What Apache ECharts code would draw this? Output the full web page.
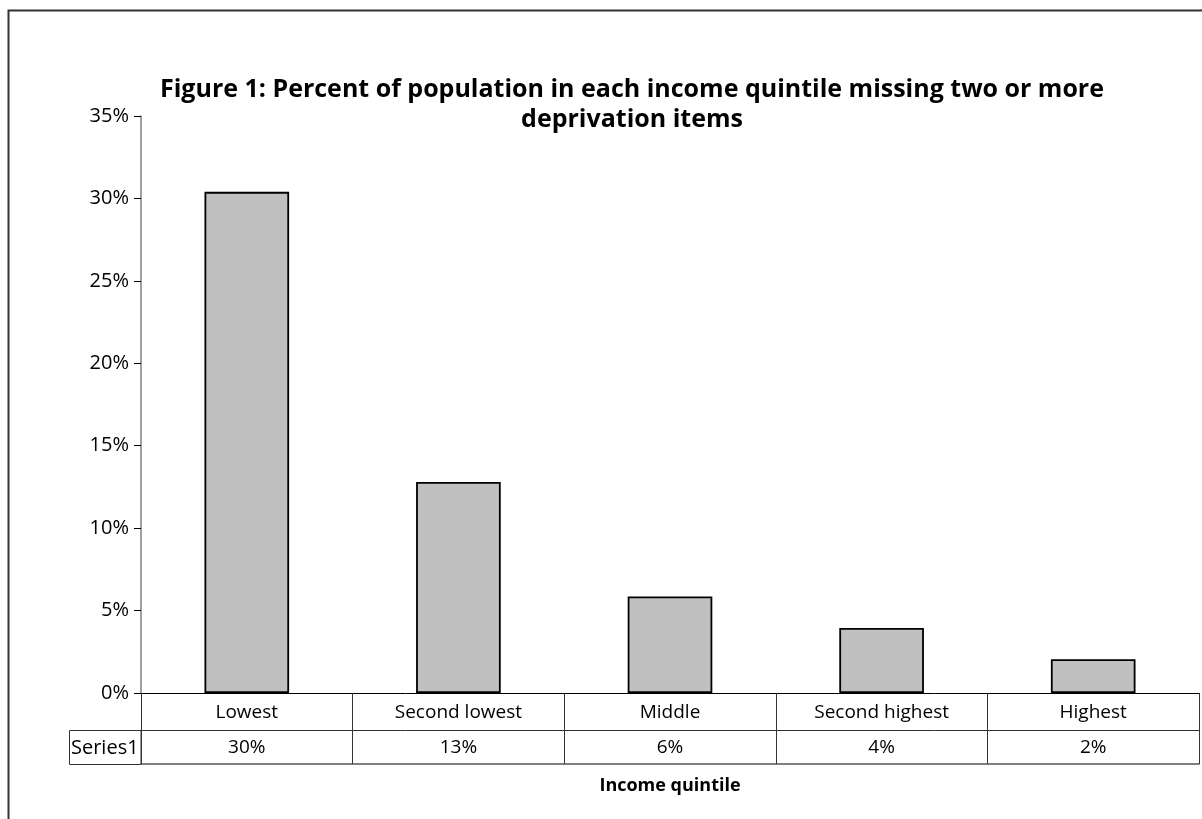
<!DOCTYPE html>
<html><head><meta charset="utf-8">
<script src="https://cdn.jsdelivr.net/npm/echarts@6/dist/echarts.min.js"></script>
<style>html,body{margin:0;padding:0;background:#fff}#c{width:1202px;height:819px}</style>
</head><body><div id="c"></div>
<script>
const titleText = 'Figure 1: Percent of population in each income quintile missing two or more\ndeprivation items';
const categories = ['Lowest', 'Second lowest', 'Middle', 'Second highest', 'Highest'];
const values = [30.4, 12.8, 5.85, 3.95, 2.05];
const tableLabels = ['30%', '13%', '6%', '4%', '2%'];
const seriesName = 'Series1';
const axisTitle = 'Income quintile';
const yMin = 0, yMax = 35, yStep = 5;

const FONT = '"Open Sans", "Noto Sans", sans-serif';
const W = 1202, H = 819;
const gLeft = 141, gRight = 3, gTop = 116, gBottom = 126;
const row = 37, row2 = 34;
const zeroY = H - gBottom;
const LBL = 19;

const chart = echarts.init(document.getElementById('c'), null, {renderer: 'canvas'});
chart.setOption({
  backgroundColor: '#fff',
  animation: false,
  textStyle: {fontFamily: FONT},
  title: {
    text: titleText, left: 627, top: 70, textAlign: 'center',
    textStyle: {fontFamily: FONT, fontWeight: 'bold', fontSize: 25, lineHeight: 30, color: '#000'}
  },
  grid: {left: gLeft, right: gRight, top: gTop, bottom: gBottom, containLabel: false},
  xAxis: [
    {
      type: 'category', data: categories, position: 'bottom',
      axisLine: {show: true, lineStyle: {color: '#000', width: 1}},
      axisTick: {show: true, inside: false, length: row + row2, interval: 0, lineStyle: {color: '#333'}},
      axisLabel: {margin: 10, fontSize: LBL, color: '#000', fontFamily: FONT, interval: 0},
      splitLine: {show: false}
    },
    {
      type: 'category', data: tableLabels, position: 'bottom', offset: row,
      axisLine: {show: true, lineStyle: {color: '#333', width: 1}},
      axisTick: {show: false},
      axisLabel: {margin: 8, fontSize: LBL, color: '#000', fontFamily: FONT, interval: 0},
      splitLine: {show: false}
    },
    {
      type: 'category', data: tableLabels, position: 'bottom', offset: row + row2,
      axisLine: {show: true, lineStyle: {color: '#555', width: 1.5}},
      axisTick: {show: false},
      axisLabel: {show: false},
      name: axisTitle, nameLocation: 'middle', nameGap: 13,
      nameTextStyle: {fontFamily: FONT, fontWeight: 'bold', fontSize: 18, color: '#000'},
      splitLine: {show: false}
    }
  ],
  yAxis: {
    type: 'value', min: yMin, max: yMax, interval: yStep,
    axisLine: {show: true, lineStyle: {color: '#808080', width: 1.5}},
    axisTick: {show: true, length: 7, lineStyle: {color: '#000'}},
    axisLabel: {formatter: '{value}%', fontSize: 20, color: '#000', margin: 12, fontFamily: FONT},
    splitLine: {show: false}
  },
  series: [{
    name: seriesName, type: 'bar', xAxisIndex: 0, data: values,
    barWidth: '40%',
    itemStyle: {color: '#C0C0C0', borderColor: '#000', borderWidth: 1.8}
  }],
  graphic: [
    {type: 'rect', silent: true, shape: {x: 8.5, y: 10.5, width: W + 20, height: H + 20},
     style: {fill: 'none', stroke: '#333', lineWidth: 2}},
    {type: 'rect', silent: true, shape: {x: 69.5, y: zeroY + row + 0.5, width: gLeft - 69.5, height: row2},
     style: {fill: 'none', stroke: '#333', lineWidth: 1}},
    {type: 'text', silent: true, x: 71, y: zeroY + row + row2 / 2 + 1,
     style: {text: seriesName, fontFamily: FONT, fontSize: 20, fill: '#000', verticalAlign: 'middle', align: 'left'}}
  ]
});
</script></body></html>
